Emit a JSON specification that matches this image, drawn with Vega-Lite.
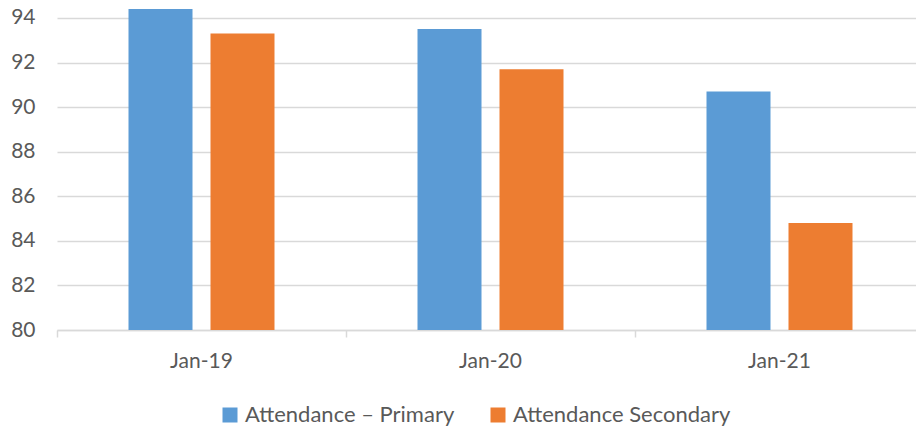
{
  "$schema": "https://vega.github.io/schema/vega-lite/v6.json",
  "width": 859,
  "height": 321,
  "autosize": {"type": "none"},
  "padding": {"left": 57, "top": 9, "right": 0, "bottom": 100},
  "background": "white",
  "config": {
    "view": {"stroke": null},
    "font": "Lato"
  },
  "data": {
    "values": [
      {"month": "Jan-19", "series": "Attendance – Primary", "value": 94.4},
      {"month": "Jan-19", "series": "Attendance Secondary", "value": 93.3},
      {"month": "Jan-20", "series": "Attendance – Primary", "value": 93.5},
      {"month": "Jan-20", "series": "Attendance Secondary", "value": 91.7},
      {"month": "Jan-21", "series": "Attendance – Primary", "value": 90.7},
      {"month": "Jan-21", "series": "Attendance Secondary", "value": 84.8}
    ]
  },
  "mark": {"type": "bar", "clip": true},
  "encoding": {
    "x": {
      "field": "month",
      "type": "nominal",
      "sort": ["Jan-19", "Jan-20", "Jan-21"],
      "scale": {"range": [0, 867], "paddingInner": 0, "paddingOuter": 0},
      "axis": {
        "title": null,
        "labelAngle": 0,
        "bandPosition": 0,
        "labelFontSize": 21,
        "labelColor": "#595959",
        "labelPadding": 13,
        "domainColor": "#d9d9d9",
        "domainWidth": 1.5,
        "tickColor": "#d9d9d9",
        "tickWidth": 1.5,
        "tickSize": 7,
        "grid": false
      }
    },
    "xOffset": {
      "field": "series",
      "type": "nominal",
      "sort": ["Attendance – Primary", "Attendance Secondary"],
      "scale": {"paddingInner": 0.2195, "paddingOuter": 0.872}
    },
    "y": {
      "field": "value",
      "type": "quantitative",
      "scale": {"domain": [80, 94.4], "nice": false, "zero": false},
      "axis": {
        "title": null,
        "values": [80, 82, 84, 86, 88, 90, 92, 94],
        "domain": false,
        "ticks": false,
        "labelFontSize": 21,
        "labelColor": "#595959",
        "labelPadding": 22,
        "gridColor": "#d9d9d9",
        "gridWidth": 1.5
      }
    },
    "color": {
      "field": "series",
      "type": "nominal",
      "scale": {"domain": ["Attendance – Primary", "Attendance Secondary"], "range": ["#5B9BD5", "#ED7D31"]},
      "legend": {
        "title": null,
        "orient": "none",
        "direction": "horizontal",
        "legendX": 162,
        "legendY": 395,
        "symbolType": "square",
        "symbolSize": 225,
        "symbolStrokeWidth": 0,
        "labelFontSize": 22,
        "labelLimit": 0,
        "labelColor": "#595959",
        "labelOffset": 4,
        "columnPadding": 32
      }
    }
  }
}
